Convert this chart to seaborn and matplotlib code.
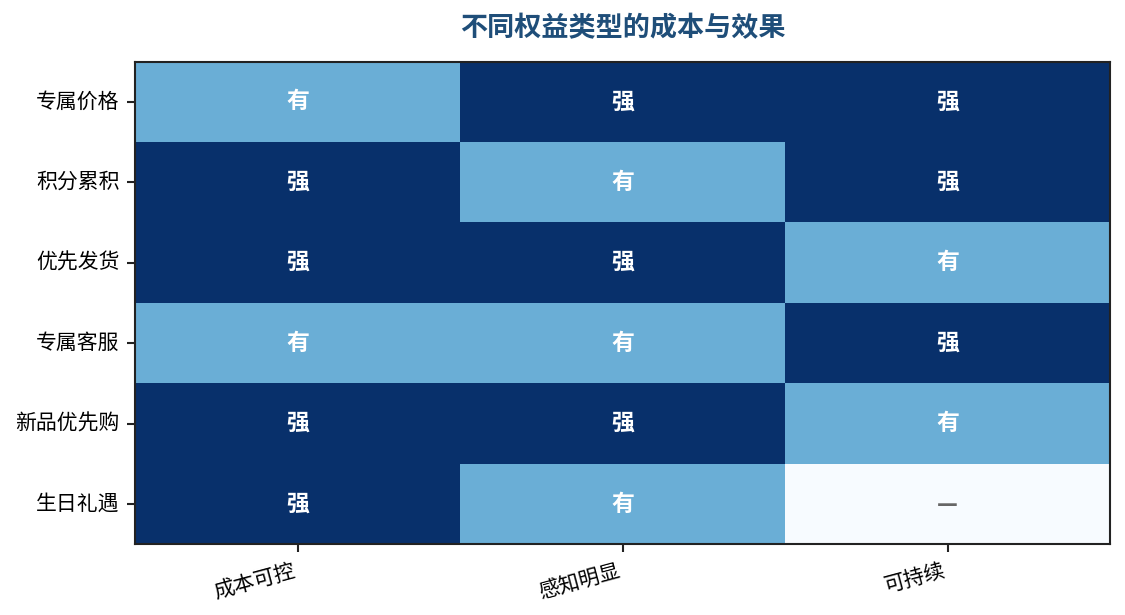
import numpy as np
import pandas as pd
import matplotlib
matplotlib.use('Agg')
import matplotlib.pyplot as plt
import seaborn as sns

sns.set_style('white')
plt.rcParams['font.family'] = ['Noto Sans CJK SC', 'DejaVu Sans']
plt.rcParams['xtick.color'] = 'black'
plt.rcParams['ytick.color'] = 'black'
plt.rcParams['text.color'] = 'black'

# data
benefits = ['专属价格', '积分累积', '优先发货', '专属客服', '新品优先购', '生日礼遇']
criteria = ['成本可控', '感知明显', '可持续']
# 2 = 强, 1 = 有, 0 = —
scores = [
    [1, 2, 2],
    [2, 1, 2],
    [2, 2, 1],
    [1, 1, 2],
    [2, 2, 1],
    [2, 1, 0],
]
label_map = {2: '强', 1: '有', 0: '—'}

df = pd.DataFrame(scores, index=benefits, columns=criteria)

fig, ax = plt.subplots(figsize=(7.5, 4.1), dpi=150)
sns.heatmap(df, cmap='Blues', vmin=0, vmax=2, cbar=False, ax=ax, annot=False)

# cell labels
for i, row in enumerate(scores):
    for j, v in enumerate(row):
        ax.text(j + 0.5, i + 0.5, label_map[v], ha='center', va='center',
                fontsize=11, fontweight='bold',
                color='white' if v > 0 else '#666666')

for s in ax.spines.values():
    s.set_visible(True)
    s.set_color('#222222')
    s.set_linewidth(1.0)

ax.tick_params(axis='both', length=4, width=1, color='#222222', labelsize=10,
               labelcolor='black')
ax.tick_params(axis='y', left=True)
ax.tick_params(axis='x', bottom=True)
ax.set_xticklabels(criteria, rotation=15, ha='right')
ax.set_yticklabels(benefits, rotation=0)
ax.set_xlabel('')
ax.set_ylabel('')
ax.set_title('不同权益类型的成本与效果', fontsize=13, fontweight='bold',
             color='#1f4e79', pad=12)

plt.subplots_adjust(left=0.12, right=0.987, top=0.9, bottom=0.115)
plt.savefig('out.png', dpi=150)
